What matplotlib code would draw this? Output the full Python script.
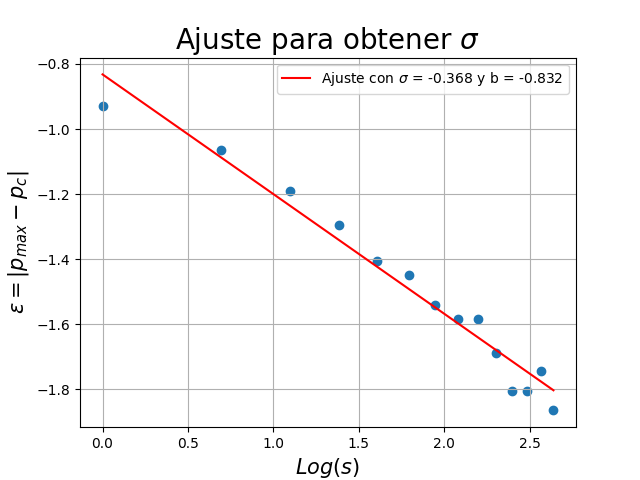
import numpy as np
import matplotlib.pyplot as plt

# Data
log_s = [0.0, 0.693, 1.099, 1.386, 1.609, 1.792, 1.946, 2.079, 2.197, 2.303, 2.398, 2.485, 2.565, 2.639]
eps = [-0.93, -1.065, -1.19, -1.295, -1.405, -1.45, -1.54, -1.585, -1.585, -1.69, -1.805, -1.805, -1.745, -1.865]
sigma = -0.368
b = -0.832

x = np.array(log_s)

fig, ax = plt.subplots(figsize=(6.4, 4.8), dpi=100)
ax.scatter(x, eps)
ax.plot(x, sigma * x + b, 'r', label=r'Ajuste con $\sigma$ = %.3f y b = %.3f' % (sigma, b))
ax.set_title(r'Ajuste para obtener $\sigma$', fontsize=20)
ax.set_xlabel(r'$Log(s)$', fontsize=15)
ax.set_ylabel(r'$\varepsilon = |p_{max} - p_c|$', fontsize=15)
ax.grid()
ax.legend()
fig.savefig('out.png')
